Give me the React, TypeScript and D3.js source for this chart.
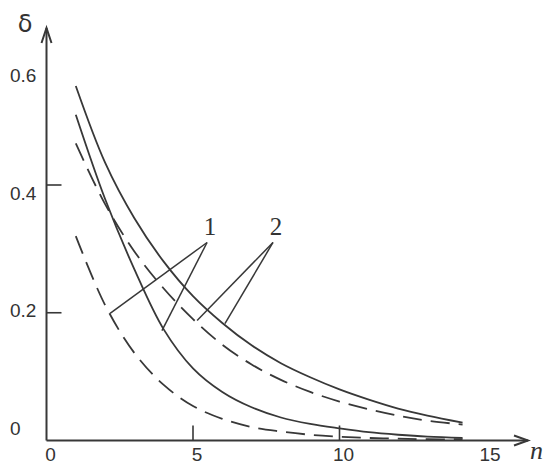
import React from "react";
import * as d3 from "d3";

// n values shared by all curves
const nValues = [1, 2, 3, 4, 5, 6, 7, 8, 9, 10, 11, 12, 13, 14.2];

// curve family 2 (upper pair)
const solid2 = [0.555, 0.435, 0.348, 0.28, 0.226, 0.184, 0.149, 0.121, 0.099, 0.08, 0.064, 0.05, 0.039, 0.028];
const dashed2 = [0.465, 0.37, 0.296, 0.238, 0.19, 0.15, 0.119, 0.095, 0.076, 0.061, 0.049, 0.039, 0.031, 0.025];

// curve family 1 (lower pair)
const solid1 = [0.51, 0.378, 0.268, 0.174, 0.113, 0.076, 0.052, 0.036, 0.026, 0.019, 0.013, 0.009, 0.006, 0.004];
const dashed1 = [0.32, 0.212, 0.137, 0.087, 0.054, 0.034, 0.021, 0.014, 0.009, 0.006, 0.004, 0.003, 0.002, 0.002];

const xTickLabels = [0, 5, 10, 15];
const xTickMarks = [5, 10];
const yTickLabels = [0, 0.2, 0.4, 0.6];
const yTickMarks = [0.2, 0.4];

// leader lines: label position and the curve points they point to, in data units
const label1 = { text: "1", at: [5.48, 0.31], targets: [[2.17, 0.199], [3.94, 0.172]] };
const label2 = { text: "2", at: [7.73, 0.31], targets: [[5.14, 0.188], [6.09, 0.183]] };

const W = 550;
const H = 469;
const ink = "#383838";

export default function App() {
  const x = d3.scaleLinear().domain([0, 10]).range([46.5, 339.5]);
  const y = d3.scaleLinear().domain([0, 0.4]).range([440.5, 185]);
  // tick labels in the scan sit on their own (slightly tighter) spacing
  const yLabel = d3.scaleLinear().domain([0, 0.6]).range([435, 82]);

  const line = d3
    .line<[number, number]>()
    .x((d) => x(d[0]))
    .y((d) => y(d[1]))
    .curve(d3.curveCatmullRom.alpha(0.5));

  const series = [
    { vals: solid2, dash: undefined },
    { vals: dashed2, dash: "19,9" },
    { vals: solid1, dash: undefined },
    { vals: dashed1, dash: "19,9" },
  ];

  const x0 = x(0);
  const y0 = y(0);
  const xEnd = 528;
  const yTop = 28;

  return (
    <svg
      width={W}
      height={H}
      style={{ position: "absolute", left: 0, top: 0, background: "#fff" }}
    >
      {/* axes */}
      <g stroke={ink} strokeWidth={2} fill="none">
        <line x1={x0} y1={y0} x2={x0} y2={yTop} />
        <line x1={x0} y1={y0} x2={xEnd} y2={y0} />
        <path d={`M${x0 - 5},${yTop + 15} L${x0},${yTop} L${x0 + 5},${yTop + 15}`} />
        <path d={`M${xEnd - 14},${y0 - 5} L${xEnd},${y0} L${xEnd - 14},${y0 + 5}`} />
        {yTickMarks.map((v) => (
          <line key={v} x1={x0} x2={x0 + 15} y1={y(v)} y2={y(v)} strokeWidth={1.6} />
        ))}
        {xTickMarks.map((v) => (
          <line key={v} x1={x(v)} x2={x(v)} y1={y0} y2={y0 - 15} strokeWidth={1.6} />
        ))}
      </g>

      {/* tick labels */}
      <g fontFamily="'Liberation Sans', Arial, sans-serif" fontSize={19} fill="#333">
        {yTickLabels.map((v) => (
          <text key={v} x={10} y={yLabel(v)}>
            {v === 0 ? "0" : d3.format(".1f")(v)}
          </text>
        ))}
        {xTickLabels.map((v) => (
          <text key={v} x={x(v) + 4} y={461} textAnchor="middle">
            {v}
          </text>
        ))}
      </g>

      {/* axis titles */}
      <text x={25} y={32} textAnchor="middle" fontFamily="'DejaVu Sans', sans-serif" fontSize={24} fill="#333">
        δ
      </text>
      <text x={530} y={459} fontFamily="'Liberation Serif', serif" fontStyle="italic" fontSize={26} fill="#333">
        n
      </text>

      {/* curves */}
      <g fill="none" stroke={ink} strokeWidth={1.8}>
        {series.map((s, i) => (
          <path
            key={i}
            d={line(nValues.map((n, j) => [n, s.vals[j]] as [number, number])) || ""}
            strokeDasharray={s.dash}
          />
        ))}
      </g>

      {/* labels with leader lines */}
      {[label1, label2].map((lb) => (
        <g key={lb.text}>
          {lb.targets.map((t, i) => (
            <line
              key={i}
              x1={x(lb.at[0])}
              y1={y(lb.at[1])}
              x2={x(t[0])}
              y2={y(t[1])}
              stroke={ink}
              strokeWidth={1.5}
            />
          ))}
          <text
            x={x(lb.at[0]) + 3}
            y={y(lb.at[1]) - 7}
            textAnchor="middle"
            fontFamily="'Liberation Serif', serif"
            fontSize={25}
            fill="#333"
          >
            {lb.text}
          </text>
        </g>
      ))}
    </svg>
  );
}
